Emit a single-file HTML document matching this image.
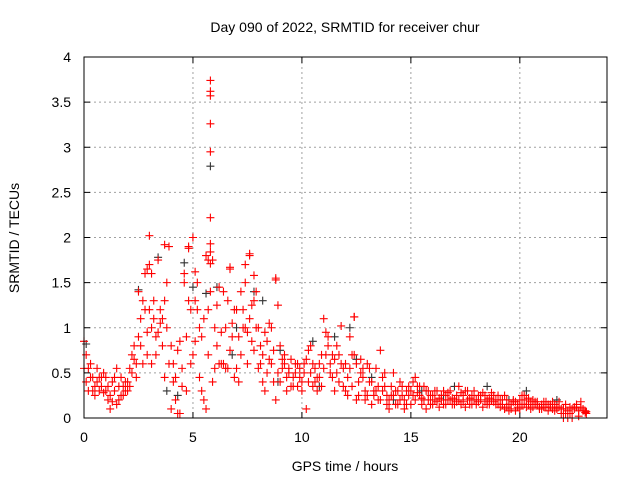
<!DOCTYPE html>
<html><head><meta charset="utf-8"><style>
html,body{margin:0;padding:0;background:#fff;}
svg{display:block;font-family:"Liberation Sans",sans-serif;}
</style></head><body>
<svg id="chart" width="640" height="480" viewBox="0 0 640 480" xmlns="http://www.w3.org/2000/svg">
<rect width="640" height="480" fill="#fff"/>
<text x="345" y="32" font-size="14" text-anchor="middle">Day 090 of 2022, SRMTID for receiver chur</text>
<text transform="translate(19,238) rotate(-90)" font-size="14" text-anchor="middle">SRMTID / TECUs</text>
<text x="345" y="471" font-size="14" text-anchor="middle">GPS time / hours</text>
<g id="grid"></g>
<g id="ticks"></g>
<g id="black"></g>
<g id="red"></g>
<rect x="84" y="57" width="523" height="361" fill="none" stroke="#000" stroke-width="1"/>
</svg>
<script>
const xTicks = [0, 5, 10, 15, 20];
const yTicks = [0, 0.5, 1, 1.5, 2, 2.5, 3, 3.5, 4];
const yTickLabels = ["0", "0.5", "1", "1.5", "2", "2.5", "3", "3.5", "4"];
const hoursA = [0,0.2,0.4,0.6,0.8,1,1.2,1.4,1.6,1.8,2,2.2,2.4,2.6,2.8,3,3.2,3.4,3.6,3.8,4,4.2,4.4,4.6,4.8,5,5.2,5.4,5.6,5.8,6,6.2,6.4,6.6,6.8,7,7.2,7.4,7.6,7.8,8,8.2,8.4,8.6,8.8,9,9.2,9.4,9.6,9.8,10,10.2,10.4,10.6,10.8,11,11.2,11.4,11.6,11.8,12,12.2,12.4,12.6,12.8,13,13.2,13.4,13.6,13.8,14,14.2,14.4,14.6,14.8,15,15.2,15.4,15.6,15.8,16,16.2,16.4,16.6,16.8,17,17.2,17.4,17.6,17.8,18,18.2,18.4,18.6,18.8,19,19.2,19.4,19.6,19.8,20,20.2,20.4,20.6,20.8,21,21.2,21.4,21.6,21.8,22,22.2,22.4,22.6,22.8,23];
const hoursB = [0.1,0.3,0.5,0.7,0.9,1.1,1.3,1.5,1.7,1.9,2.1,2.3,2.5,2.7,2.9,3.1,3.3,3.5,3.7,3.9,4.1,4.3,4.5,4.7,4.9,5.1,5.3,5.5,5.7,5.9,6.1,6.3,6.5,6.7,6.9,7.1,7.3,7.5,7.7,7.9,8.1,8.3,8.5,8.7,8.9,9.1,9.3,9.5,9.7,9.9,10.1,10.3,10.5,10.7,10.9,11.1,11.3,11.5,11.7,11.9,12.1,12.3,12.5,12.7,12.9,13.1,13.3,13.5,13.7,13.9,14.1,14.3,14.5,14.7,14.9,15.1,15.3,15.5,15.7,15.9,16.1,16.3,16.5,16.7,16.9,17.1,17.3,17.5,17.7,17.9,18.1,18.3,18.5,18.7,18.9,19.1,19.3,19.5,19.7,19.9,20.1,20.3,20.5,20.7,20.9,21.1,21.3,21.5,21.7,21.9,22.1,22.3,22.5,22.7,22.9,23.05];
const srmtidA = [0.85,0.55,0.45,0.40,0.35, 0.45,0.25,0.30,0.20,0.35, 0.40,0.70,0.60,1.10,1.60, 1.70,1.10,0.95,1.10,1.50, 0.80,0.20,0.85,1.50,1.30, 2.00,1.50,0.30,1.80,1.40, 1.00,0.60,1.40,1.30,1.05, 1.20,1.40,1.00,1.80,1.30, 1.00,0.70,0.50,1.00,1.55, 0.80,0.60,0.55,0.45,0.35, 0.40,0.65,0.80,0.55,0.45, 1.10,0.80,0.70,0.50,0.60, 0.60,0.90,1.12,0.40,0.55, 0.60,0.40,0.30,0.75,0.50, 0.20,0.50,0.30,0.25,0.15, 0.30,0.45,0.25,0.35,0.20, 0.25,0.30,0.20,0.25,0.20, 0.20,0.35,0.25,0.20,0.25, 0.20,0.25,0.18,0.22,0.25, 0.25,0.15,0.20,0.10,0.18, 0.20,0.25,0.15,0.20,0.15, 0.15,0.18,0.12,0.15,0.12, 0.00,0.00,0.10,0.12,0.18, 0.06];
const srmtidB = [0.55,0.30,0.30,0.55,0.45, 0.30,0.10,0.45,0.35,0.25, 0.30,0.50,0.45,0.80,1.20, 1.20,1.30,1.75,0.80,1.00, 0.10,0.45,0.05,1.60,1.90, 0.70,1.20,0.90,0.10,3.62, 0.55,1.45,0.60,0.55,0.90, 0.55,0.70,1.50,1.10,0.75, 0.55,0.40,0.85,0.60,0.20, 0.40,0.70,0.50,0.35,0.60, 0.30,0.10,0.50,0.40,0.60, 0.55,0.90,0.45,0.80,1.02, 0.30,0.55,0.70,0.25,0.45, 0.25,0.15,0.55,0.20,0.35, 0.10,0.25,0.15,0.35,0.30, 0.15,0.20,0.35,0.20,0.30, 0.15,0.18,0.25,0.15,0.30, 0.15,0.20,0.18,0.30,0.15, 0.15,0.20,0.25,0.15,0.18, 0.15,0.20,0.12,0.15,0.08, 0.10,0.15,0.22,0.12,0.18, 0.10,0.12,0.15,0.08,0.18, 0.10,0.08,0.00,0.15,0.12, 0.08];
const srmtidC = [0.40,0.45,0.25,0.30,0.50, 0.20,0.40,0.15,0.25,0.40, 0.55,0.65,1.40,0.60,0.95, 0.60,0.90,1.05,0.45,0.60, 0.40,0.75,0.35,0.90,0.60, 1.30,0.45,0.20,0.70,1.75, 1.25,0.95,0.55,1.65,0.45, 0.90,1.00,0.60,1.25,1.40, 0.80,0.30,1.05,0.40,1.25, 0.55,0.30,0.65,0.60,0.45, 0.60,0.40,0.35,0.30,0.70, 0.70,0.60,0.30,0.40,0.55, 0.45,0.35,0.60,0.65,0.30, 0.40,0.30,0.20,0.45,0.15, 0.35,0.15,0.40,0.20,0.25, 0.25,0.35,0.15,0.10,0.25, 0.20,0.12,0.30,0.20,0.15, 0.25,0.15,0.30,0.15,0.20, 0.25,0.12,0.20,0.28,0.20, 0.20,0.10,0.15,0.18,0.12, 0.25,0.12,0.18,0.15,0.10, 0.18,0.08,0.10,0.12,0.10, 0.05,0.12,0.10,0.08,0.10, 0.05];
const srmtidD = [0.70,0.60,0.35,0.45,0.28, 0.35,0.18,0.55,0.45,0.30, 0.35,0.80,0.90,1.30,0.70, 1.00,0.70,1.20,1.30,1.90, 0.60,0.05,0.55,0.30,1.20, 0.85,1.00,1.10,1.20,0.40, 0.80,0.60,1.00,0.75,1.20, 0.40,1.20,0.95,0.85,1.00, 0.60,0.95,0.65,0.75,0.50, 0.65,0.45,0.35,0.50,0.55, 0.50,0.75,0.60,0.45,0.35, 0.95,0.50,0.65,0.70,0.35, 0.25,0.70,0.20,0.50,0.20, 0.55,0.25,0.35,0.30,0.25, 0.25,0.30,0.20,0.10,0.35, 0.40,0.28,0.22,0.30,0.15, 0.30,0.22,0.15,0.28,0.22, 0.18,0.28,0.12,0.22,0.30, 0.18,0.28,0.15,0.20,0.15, 0.12,0.25,0.08,0.20,0.15, 0.15,0.20,0.10,0.18,0.12, 0.12,0.15,0.18,0.10,0.05, 0.15,0.05,0.12,0.02,0.08, 0.07];
const outlierHours = [5.8,5.8,5.8,5.8,5.8,5.8,5.8,5.8,3.0,3.7,5.0,4.8,6.7,7.6,8.8,12.4,2.9,3.1,5.1,5.7,7.4,7.8];
const outlierValues = [3.74,3.57,3.26,2.95,2.22,1.93,1.84,1.71,2.02,1.92,2.0,1.88,1.67,1.82,1.53,1.12,1.65,1.6,1.62,1.75,1.7,1.58];
const blackHours = [0.1,2.5,3.4,4.6,5.0,5.8,5.6,6.1,7.0,7.8,8.2,9.0,10.5,11.5,12.2,12.5,13.2,15.5,17.0,18.5,20.3,21.7,3.8,4.3,6.8,8.9,10.8,14.2,16.5,19.5];
const blackValues = [0.82,1.42,1.78,1.72,1.45,2.79,1.38,1.45,1.0,1.4,1.3,0.75,0.85,0.9,1.0,0.65,0.45,0.3,0.35,0.35,0.3,0.2,0.3,0.25,0.7,0.4,0.35,0.2,0.25,0.2];

const X0 = 84, X1 = 607, Y0 = 418, Y1 = 57, XMAX = 24, YMAX = 4;
function xs(v){ return X0 + (X1 - X0) * v / XMAX; }
function ys(v){ return Y0 - (Y0 - Y1) * v / YMAX; }
const NS = "http://www.w3.org/2000/svg";
function mk(tag, attrs, parent){ const e = document.createElementNS(NS, tag); for (const k in attrs) e.setAttribute(k, attrs[k]); parent.appendChild(e); return e; }

const grid = document.getElementById('grid');
const ticks = document.getElementById('ticks');
xTicks.forEach(function(t){
  const x = xs(t);
  if (t > 0) {
    const g = mk('line', {x1:x, x2:x, y1:Y1, y2:Y0, stroke:'#a0a0a0', 'stroke-width':1, 'stroke-dasharray':'2,3'}, grid);
    
    
  }
  mk('line', {x1:x, x2:x, y1:Y0, y2:Y0-6, stroke:'#000'}, ticks);
  mk('line', {x1:x, x2:x, y1:Y1, y2:Y1+6, stroke:'#000'}, ticks);
  const tx = mk('text', {x:x, y:Y0+24, 'font-size':14, 'text-anchor':'middle'}, ticks);
  tx.textContent = String(t);
  
  
});
yTicks.forEach(function(t, i){
  const y = ys(t);
  if (t > 0 && t < YMAX) {
    const g = mk('line', {x1:X0, x2:X1, y1:y, y2:y, stroke:'#a0a0a0', 'stroke-width':1, 'stroke-dasharray':'2,3'}, grid);
    
    
  }
  mk('line', {x1:X0, x2:X0+6, y1:y, y2:y, stroke:'#000'}, ticks);
  mk('line', {x1:X1, x2:X1-6, y1:y, y2:y, stroke:'#000'}, ticks);
  const tx = mk('text', {x:X0-13, y:y+5, 'font-size':14, 'text-anchor':'end'}, ticks);
  tx.textContent = yTickLabels[i];
  
  
});

function plus(parent, t, v, color){
  const x = xs(t), y = ys(v);
  const p = mk('path', {d:'M'+(x-4)+' '+y+'H'+(x+4)+'M'+x+' '+(y-4)+'V'+(y+4), stroke:color, 'stroke-width':1.1, fill:'none'}, parent);
  
  
}
const red = document.getElementById('red');
const black = document.getElementById('black');
hoursA.forEach(function(h, i){ plus(red, h, srmtidA[i], '#ff0000'); plus(red, h, srmtidB[i], '#ff0000'); });
hoursB.forEach(function(h, i){ plus(red, h, srmtidC[i], '#ff0000'); plus(red, h, srmtidD[i], '#ff0000'); });
outlierHours.forEach(function(h, i){ plus(red, h, outlierValues[i], '#ff0000'); });
blackHours.forEach(function(h, i){ plus(black, h, blackValues[i], '#333333'); });
</script>
</body></html>
